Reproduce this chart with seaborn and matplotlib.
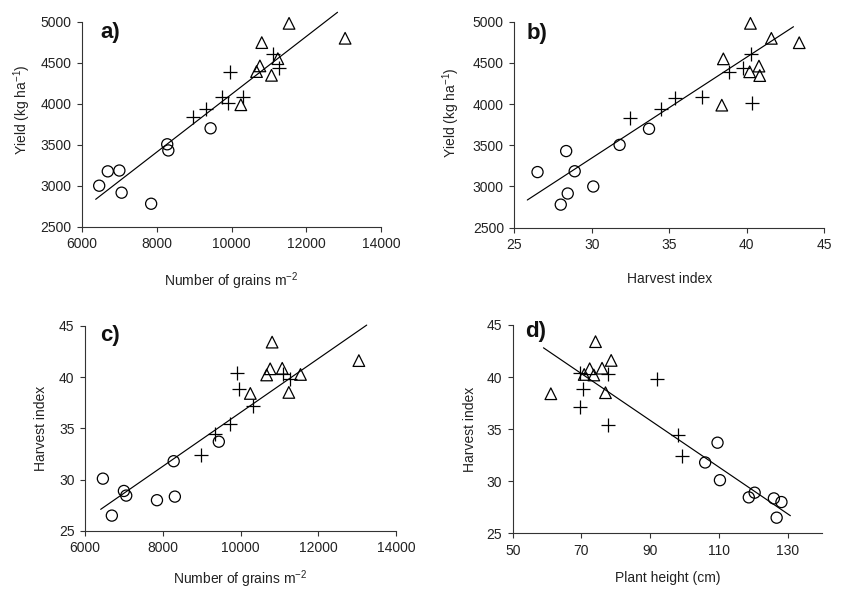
import numpy as np
import pandas as pd
import matplotlib
matplotlib.use("Agg")
import matplotlib.pyplot as plt
import seaborn as sns

# ---------------- data ----------------
group = ["circle"] * 8 + ["plus"] * 8 + ["triangle"] * 8
grains = [6460, 6690, 7000, 7060, 7850, 8280, 8310, 9440,
          8980, 9330, 9735, 9910, 9960, 10310, 11100, 11275,
          11540, 13040, 10810, 10760, 10670, 11240, 11070, 10250]
yield_kg = [3000, 3175, 3185, 2915, 2780, 3505, 3430, 3700,
            3835, 3938, 4078, 4011, 4390, 4084, 4612, 4437,
            4980, 4798, 4745, 4461, 4392, 4549, 4346, 3987]
harvest_index = [30.1, 26.5, 28.9, 28.45, 28.0, 31.8, 28.35, 33.7,
                 32.45, 34.45, 35.4, 40.35, 38.85, 37.15, 40.3, 39.8,
                 40.25, 41.6, 43.4, 40.8, 40.2, 38.5, 40.85, 38.4]
plant_height = [110.3, 126.8, 120.4, 118.7, 128.2, 106.0, 126.0, 109.6,
                99.4, 98.1, 77.7, 69.7, 70.5, 69.7, 77.7, 92.1,
                70.8, 78.65, 74.1, 72.4, 73.6, 77.0, 76.0, 61.1]

# fitted regression lines (end points)
line_a_x, line_a_y = [6366, 12837], [2834, 5115]
line_b_x, line_b_y = [25.84, 43.03], [2836, 4939]
line_c_x, line_c_y = [6403, 13242], [27.11, 45.06]
line_d_x, line_d_y = [58.95, 130.8], [42.81, 26.69]

grain_ticks = [6000, 8000, 10000, 12000, 14000]
yield_ticks = [2500, 3000, 3500, 4000, 4500, 5000]
hi_ticks_x = [25, 30, 35, 40, 45]
hi_ticks_y = [25, 30, 35, 40, 45]
height_ticks = [50, 70, 90, 110, 130]

df = pd.DataFrame({"group": group, "grains": grains, "yield": yield_kg,
                   "hi": harvest_index, "height": plant_height})

# ---------------- style ----------------
sns.set_theme(style="ticks")
plt.rcParams.update({
    "font.family": ["Liberation Sans", "DejaVu Sans"],
    "mathtext.fontset": "custom",
    "mathtext.rm": "Liberation Sans",
    "mathtext.it": "Liberation Sans:italic",
    "mathtext.bf": "Liberation Sans:bold",
    "mathtext.default": "regular",
    "axes.edgecolor": "#333333",
    "axes.linewidth": 0.8,
    "text.color": "#222222",
    "axes.labelcolor": "#222222",
    "xtick.color": "#333333",
    "ytick.color": "#333333",
    "xtick.labelcolor": "#222222",
    "ytick.labelcolor": "#222222",
})

W, H = 842, 591
fig = plt.figure(figsize=(W / 100, H / 100), dpi=100)
fig.patch.set_facecolor("white")


def add_ax(left, right, top, bottom):
    return fig.add_axes([left / W, 1 - bottom / H, (right - left) / W, (bottom - top) / H])


def panel(ax, xcol, ycol, lx, ly, xlim, ylim, xticks, yticks, xlabel, ylabel,
          letter, letter_pos, ylab_pos, xlab_y):
    sns.lineplot(x=lx, y=ly, ax=ax, color="black", linewidth=0.85,
                 clip_on=False, zorder=2)
    sub = df[df.group == "circle"]
    sns.scatterplot(data=sub, x=xcol, y=ycol, ax=ax, marker="o", s=64,
                    facecolor="none", edgecolor="black", linewidth=0.9, zorder=3,
                    clip_on=False)
    sub = df[df.group == "plus"]
    sns.scatterplot(data=sub, x=xcol, y=ycol, ax=ax, marker="+", s=95,
                    color="black", linewidth=0.9, zorder=3, clip_on=False)
    sub = df[df.group == "triangle"]
    sns.scatterplot(data=sub, x=xcol, y=ycol, ax=ax, marker="^", s=70,
                    facecolor="none", edgecolor="black", linewidth=0.9, zorder=3,
                    clip_on=False)
    ax.set_xlim(*xlim)
    ax.set_ylim(*ylim)
    ax.set_xticks(xticks)
    ax.set_yticks(yticks)
    ax.set_xticklabels([str(t) for t in xticks])
    ax.set_yticklabels([str(t) for t in yticks])
    ax.tick_params(axis="both", direction="out", length=3.5, width=0.8,
                   labelsize=10, pad=4)
    ax.set_xlabel(xlabel, fontsize=10)
    ax.set_ylabel(ylabel, fontsize=10)
    ax.yaxis.set_label_coords(ylab_pos[0], ylab_pos[1])
    ax.xaxis.set_label_coords(0.5, xlab_y)
    sns.despine(ax=ax)
    ax.set_facecolor("none")
    ax.text(letter_pos[0], letter_pos[1], letter, transform=ax.transAxes,
            fontsize=16, fontweight="bold", ha="left", va="center", color="#111111")


ax_a = add_ax(82, 381, 21.7, 226.7)
panel(ax_a, "grains", "yield", line_a_x, line_a_y, (6000, 14000), (2500, 5000),
      grain_ticks, yield_ticks, "Number of grains m$^{-2}$", "Yield (kg ha$^{-1}$)",
      "a)", (0.06, 0.945), (-0.165, 0.57), -0.215)

ax_b = add_ax(514.3, 824, 21.7, 227.7)
panel(ax_b, "hi", "yield", line_b_x, line_b_y, (25, 45), (2500, 5000),
      hi_ticks_x, yield_ticks, "Harvest index", "Yield (kg ha$^{-1}$)",
      "b)", (0.04, 0.945), (-0.17, 0.56), -0.215)

ax_c = add_ax(85, 396.2, 325.7, 531)
panel(ax_c, "grains", "hi", line_c_x, line_c_y, (6000, 14000), (25, 45),
      grain_ticks, hi_ticks_y, "Number of grains m$^{-2}$", "Harvest index",
      "c)", (0.05, 0.95), (-0.12, 0.5), -0.18)

ax_d = add_ax(512.7, 822, 325, 533.3)
panel(ax_d, "height", "hi", line_d_x, line_d_y, (50, 140), (25, 45),
      height_ticks, hi_ticks_y, "Plant height (cm)", "Harvest index",
      "d)", (0.04, 0.97), (-0.115, 0.5), -0.18)

fig.savefig("out.png", dpi=100, facecolor="white")
